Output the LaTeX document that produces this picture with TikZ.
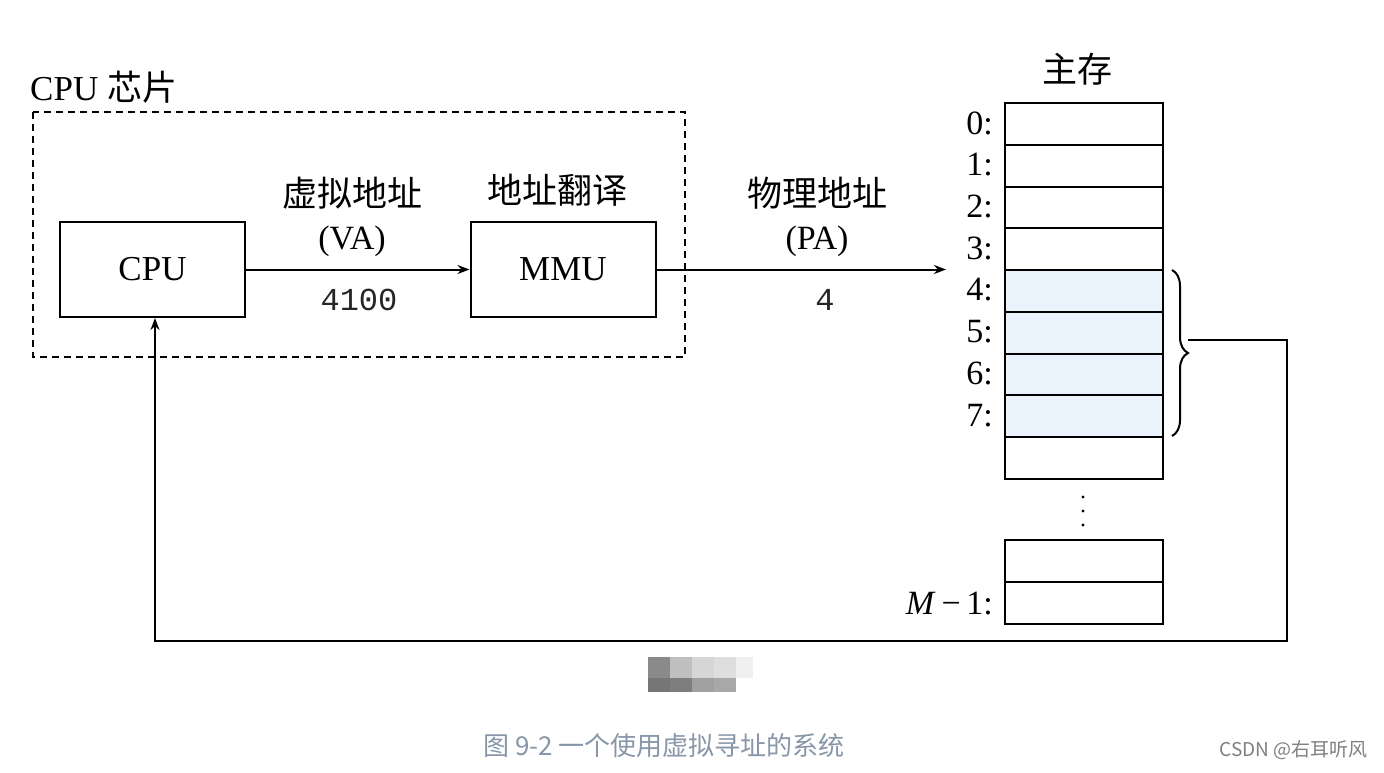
\documentclass[tikz,border=0pt]{standalone}
\usepackage{fontspec}
\setmainfont{Liberation Serif}
\newfontfamily\cjk{Noto Sans CJK SC}
\newfontfamily\monof{Liberation Mono}
\usetikzlibrary{arrows.meta,decorations.pathreplacing}
\definecolor{memblue}{HTML}{EAF2FB}
\definecolor{capgray}{HTML}{8796A8}
\begin{document}
\begin{tikzpicture}[x=1pt,y=-1pt,
  box/.style={draw,line width=2pt,minimum width=185pt,minimum height=95pt,inner sep=0pt},
  lbl/.style={font=\fontsize{34}{34}\selectfont,inner sep=0pt},
  cjklbl/.style={font=\fontsize{35}{35}\selectfont\cjk,inner sep=0pt},
  num/.style={font=\fontsize{32}{32}\selectfont\monof,inner sep=0pt,text=black!85},
  cell/.style={draw,line width=2pt,minimum width=158pt,minimum height=41.75pt,inner sep=0pt,anchor=north west},
  conn/.style={line width=2pt},
  tip/.style={-{Stealth[length=12pt,width=9pt]}}
]
\useasboundingbox (0,0) rectangle (1384,773);
\fill[white] (0,0) rectangle (1384,773);

% CPU chip
\draw[line width=2pt,dash pattern=on 7pt off 5pt] (33,112) rectangle (685,357);
\node[anchor=west,inner sep=0pt,font=\fontsize{35}{35}\selectfont] (chip) at (30,87) {CPU {\cjk 芯片}};

\node[box] (cpu) at (152.5,269.5) {\fontsize{35}{35}\selectfont CPU};
\node[box] (mmu) at (563,269.5) {\fontsize{35}{35}\selectfont MMU};

\draw[conn,tip] (cpu.east) -- (mmu.west);
\node[cjklbl] (va1) at (352,193) {虚拟地址};
\node[lbl] (va2) at (352,241) {(VA)};
\node[num] (va3) at (359,300) {4100};
\node[cjklbl] (tr) at (557,190) {地址翻译};

\coordinate (paend) at (946,269.5);
\draw[conn,tip] (mmu.east) -- (paend);
\node[cjklbl] (pa1) at (817,193) {物理地址};
\node[lbl] (pa2) at (817,241) {(PA)};
\node[num] (pa3) at (825,300) {4};

% main memory
\node[cjklbl] (mm) at (1077,69) {主存};
\foreach \i in {0,...,8}{
  \pgfmathsetmacro{\yy}{102+\i*41.75}
  \ifnum\i>3 \ifnum\i<8
    \fill[memblue] (1004,\yy) rectangle ++(158,41.75);
  \fi\fi
  \node[cell] (r\i) at (1004,\yy) {};
}
\foreach \i in {0,...,7}{
  \node[lbl,anchor=east] (l\i) at (993,{123+\i*41.75}) {\i:};
}
\node[cell] (rm2) at (1004,539) {};
\node[cell] (rm1) at (1004,580.75) {};
\node[lbl,anchor=east] (lm) at (993,604) {\textit{M}\,−\,1:};
\foreach \yy in {497,511,525}{
  \fill (1083,\yy) circle (1.6pt);
}

% brace and feedback
\draw[line width=2pt,decorate,decoration={brace,amplitude=16pt}] (1172,270) -- (1172,436);
\coordinate (bt) at (1188,340);
\coordinate (c1) at (1287,340);
\coordinate (c2) at (1287,641);
\coordinate (c3) at (155,641);
\draw[conn,tip] (bt) -- (c1) -- (c2) -- (c3) -- (c3 |- cpu.south);

% mosaic
\fill[fill={rgb,255:red,138;green,138;blue,138}] (648,657) rectangle (670,678);
\fill[fill={rgb,255:red,192;green,192;blue,192}] (670,657) rectangle (692,678);
\fill[fill={rgb,255:red,214;green,214;blue,214}] (692,657) rectangle (714,678);
\fill[fill={rgb,255:red,222;green,222;blue,222}] (714,657) rectangle (736,678);
\fill[fill={rgb,255:red,240;green,240;blue,240}] (736,657) rectangle (753,678);
\fill[fill={rgb,255:red,118;green,118;blue,118}] (648,678) rectangle (670,692);
\fill[fill={rgb,255:red,126;green,126;blue,126}] (670,678) rectangle (692,692);
\fill[fill={rgb,255:red,160;green,160;blue,160}] (692,678) rectangle (714,692);
\fill[fill={rgb,255:red,168;green,168;blue,168}] (714,678) rectangle (736,692);

% caption
\node[inner sep=0pt,text=capgray,font=\fontsize{26}{26}\selectfont\cjk] (cap) at (664,746) {图 9-2 一个使用虚拟寻址的系统};
\node[inner sep=0pt,text=gray,font=\fontsize{19}{19}\selectfont\cjk,anchor=east] (wm) at (1368,750) {CSDN @右耳听风};
\end{tikzpicture}
\end{document}
